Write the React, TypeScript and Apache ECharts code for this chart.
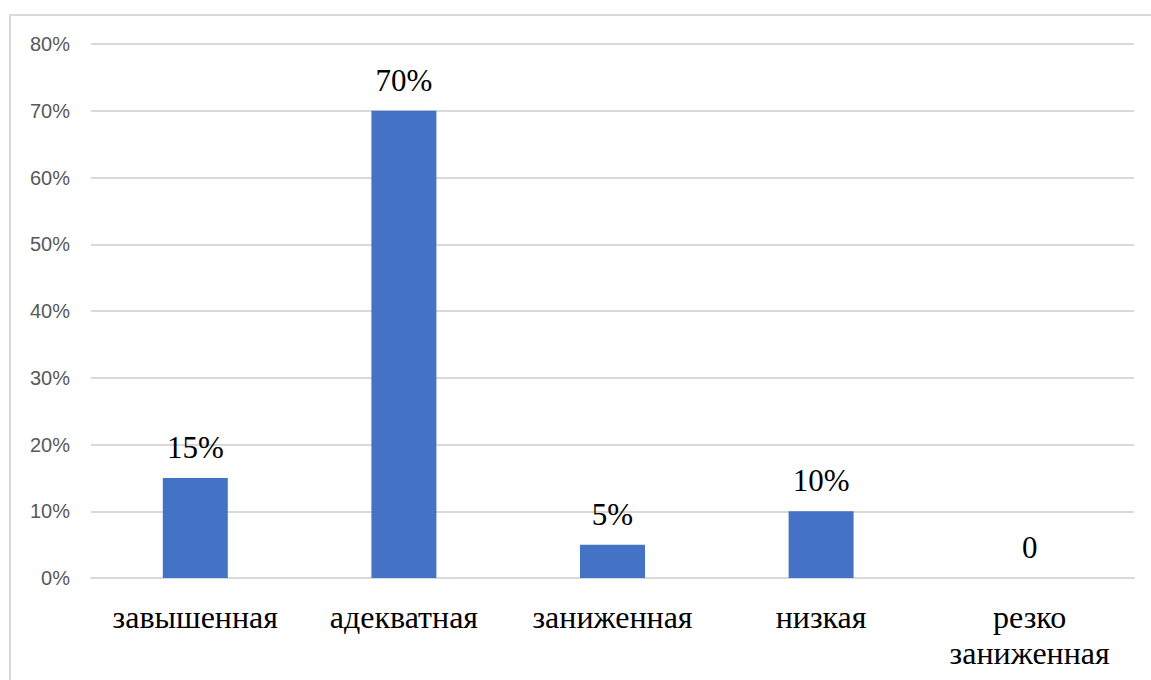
import React, { useEffect, useRef } from "react";
import * as echarts from "echarts";

const categories = ["завышенная", "адекватная", "заниженная", "низкая", "резко\nзаниженная"];
const values = [15, 70, 5, 10, 0];
const yTicks = { min: 0, max: 80, interval: 10 };

export default function App() {
  const ref = useRef<HTMLDivElement>(null);
  useEffect(() => {
    const chart = echarts.init(ref.current!, null, { renderer: "svg" });
    chart.setOption({
      animation: false,
      backgroundColor: "#ffffff",
      graphic: [
        {
          type: "rect",
          shape: { x: 10, y: 15, width: 1200, height: 700 },
          style: { fill: "none", stroke: "#d9d9d9", lineWidth: 2 },
          silent: true,
        },
      ],
      grid: { left: 91, right: 17, top: 44, bottom: 102 },
      xAxis: {
        type: "category",
        data: categories,
        axisLine: { lineStyle: { color: "#d9d9d9", width: 2 } },
        axisTick: { show: false },
        axisLabel: {
          color: "#000000",
          fontFamily: "Liberation Serif",
          fontSize: 32,
          lineHeight: 36,
          margin: 21,
          interval: 0,
        },
      },
      yAxis: {
        type: "value",
        min: yTicks.min,
        max: yTicks.max,
        interval: yTicks.interval,
        axisLine: { show: false },
        axisTick: { show: false },
        splitLine: { lineStyle: { color: "#d9d9d9", width: 2 } },
        axisLabel: {
          color: "#595959",
          fontFamily: "Liberation Sans",
          fontSize: 20,
          margin: 21,
          formatter: "{value}%",
        },
      },
      series: [
        {
          type: "bar",
          data: values,
          barWidth: 65,
          itemStyle: { color: "#4472C4" },
          label: {
            show: true,
            position: "top",
            distance: 15,
            color: "#000000",
            fontFamily: "Liberation Serif",
            fontSize: 31,
            formatter: (p: any) => (p.value === 0 ? "0" : p.value + "%"),
          },
        },
      ],
    });
    return () => chart.dispose();
  }, []);
  return (
    <div
      ref={ref}
      style={{ position: "fixed", left: 0, top: 0, width: 1151, height: 680 }}
    />
  );
}
